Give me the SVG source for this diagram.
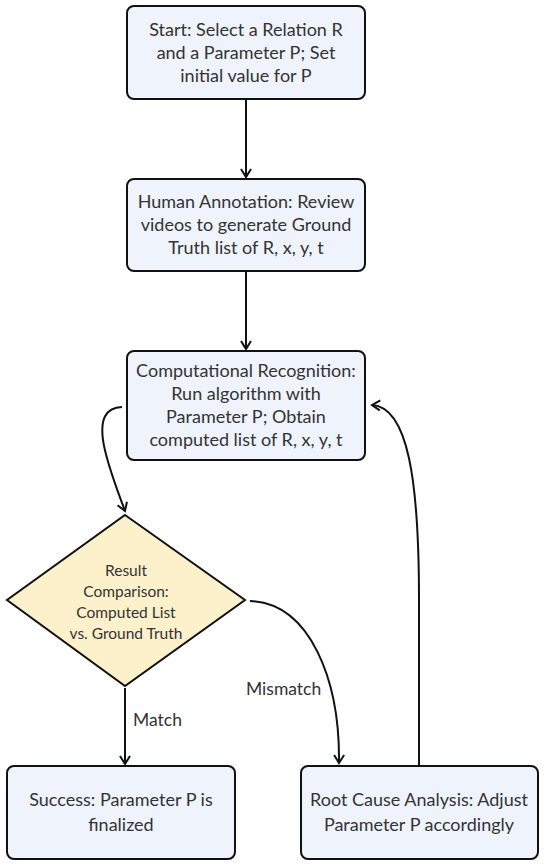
<svg xmlns="http://www.w3.org/2000/svg" width="545" height="866" viewBox="0 0 545 866">
<style>
.box{fill:#eef3fc;stroke:#111;stroke-width:2}
.dia{fill:#fdf1cc;stroke:#111;stroke-width:2}
.t{font-family:"Lato","Noto Sans",sans-serif;font-size:18px;fill:#333;text-anchor:middle}
.td{font-family:"Lato","Noto Sans",sans-serif;font-size:15.5px;fill:#333;text-anchor:middle}
.lbl{font-family:"Lato","Noto Sans",sans-serif;font-size:17.5px;fill:#333}
.e{fill:none;stroke:#111;stroke-width:2;marker-end:url(#arr)}
</style>
<defs>
<marker id="arr" viewBox="0 0 12 12" refX="10" refY="6" markerWidth="12" markerHeight="12" markerUnits="userSpaceOnUse" orient="auto">
<path d="M2,1 L10,6 L2,11" fill="none" stroke="#111" stroke-width="2"/>
</marker>
</defs>
<g id="edges">
<path class="e" d="M246,100 L246,177"/>
<path class="e" d="M246,272 L246,349"/>
<path class="e" d="M122,407 C84,408 110,470 125,511"/>
<path class="e" d="M125,688 L125,764"/>
<path class="e" d="M250,601 C310,603 340,680 339,763"/>
<path class="e" d="M419,765 L419,600 C419,480 408,407 372,405"/>
<text class="lbl" x="133" y="726">Match</text>
<text class="lbl" x="246" y="695">Mismatch</text>
</g>
<g id="start">
<rect class="box" x="127" y="6" width="238" height="93" rx="7"/>
<text class="t" x="246" y="36">Start: Select a Relation R</text>
<text class="t" x="246" y="59">and a Parameter P; Set</text>
<text class="t" x="246" y="82">initial value for P</text>
</g>
<g id="annotation">
<rect class="box" x="127" y="179" width="238" height="92" rx="7"/>
<text class="t" x="246" y="208">Human Annotation: Review</text>
<text class="t" x="246" y="231">videos to generate Ground</text>
<text class="t" x="246" y="254">Truth list of R, x, y, t</text>
</g>
<g id="recognition">
<rect class="box" x="127" y="351" width="238" height="109" rx="7"/>
<text class="t" x="246" y="377">Computational Recognition:</text>
<text class="t" x="246" y="400">Run algorithm with</text>
<text class="t" x="246" y="423">Parameter P; Obtain</text>
<text class="t" x="246" y="446">computed list of R, x, y, t</text>
</g>
<g id="comparison">
<polygon class="dia" points="125,515 245,600 125,686 7,600"/>
<text class="td" x="126" y="576">Result</text>
<text class="td" x="126" y="597">Comparison:</text>
<text class="td" x="126" y="618">Computed List</text>
<text class="td" x="126" y="639">vs. Ground Truth</text>
</g>
<g id="success">
<rect class="box" x="7" y="766" width="228" height="93" rx="7"/>
<text class="t" x="121" y="806">Success: Parameter P is</text>
<text class="t" x="121" y="831">finalized</text>
</g>
<g id="rootcause">
<rect class="box" x="301" y="766" width="237" height="93" rx="7"/>
<text class="t" x="419" y="806">Root Cause Analysis: Adjust</text>
<text class="t" x="419" y="831">Parameter P accordingly</text>
</g>
</svg>
